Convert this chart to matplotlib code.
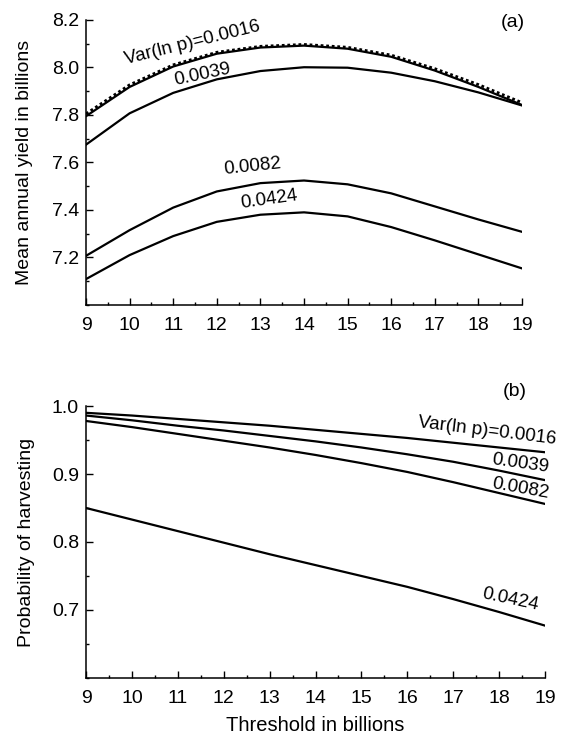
import matplotlib.pyplot as plt
from matplotlib.ticker import MultipleLocator

plt.rcParams["font.family"] = ["Liberation Sans", "DejaVu Sans"]

# threshold (billions)
threshold = [9, 10, 11, 12, 13, 14, 15, 16, 17, 18, 19]

# (a) mean annual yield, billions
yield_dotted = [7.805, 7.927, 8.011, 8.064, 8.089, 8.097, 8.085, 8.052, 7.995, 7.928, 7.852]
yield_0016 = [7.795, 7.918, 8.004, 8.058, 8.084, 8.092, 8.079, 8.045, 7.987, 7.918, 7.842]
yield_0039 = [7.675, 7.807, 7.893, 7.950, 7.985, 8.001, 7.999, 7.978, 7.942, 7.895, 7.840]
yield_0082 = [7.207, 7.315, 7.410, 7.478, 7.513, 7.524, 7.508, 7.470, 7.415, 7.360, 7.308]
yield_0424 = [7.109, 7.210, 7.290, 7.350, 7.380, 7.390, 7.373, 7.328, 7.272, 7.213, 7.154]

# (b) probability of harvesting
prob_0016 = [0.990, 0.986, 0.981, 0.976, 0.971, 0.965, 0.959, 0.953, 0.946, 0.939, 0.932]
prob_0039 = [0.986, 0.979, 0.971, 0.964, 0.956, 0.948, 0.939, 0.929, 0.918, 0.905, 0.891]
prob_0082 = [0.978, 0.969, 0.959, 0.949, 0.939, 0.928, 0.916, 0.903, 0.888, 0.872, 0.856]
prob_0424 = [0.850, 0.833, 0.816, 0.799, 0.782, 0.766, 0.750, 0.734, 0.716, 0.697, 0.677]


def style_axes(ax):
    for side in ["top", "right"]:
        ax.spines[side].set_visible(False)
    for side in ["left", "bottom"]:
        ax.spines[side].set_linewidth(1.1)
    ax.tick_params(which="both", direction="in", width=1.0, labelsize=14)
    ax.tick_params(which="major", length=5)
    ax.tick_params(which="minor", length=2.5)
    ax.tick_params(axis="x", pad=9)
    ax.tick_params(axis="y", pad=5)
    ax.xaxis.set_major_locator(MultipleLocator(1))
    ax.xaxis.set_minor_locator(MultipleLocator(0.5))


fig = plt.figure(figsize=(5.67, 7.37), dpi=100)
ax1 = fig.add_axes([0.1517, 0.5862, 0.9206 - 0.1517, 0.9729 - 0.5862])
ax2 = fig.add_axes([0.1517, 0.0801, 0.9612 - 0.1517, 0.4491 - 0.0801])

lw = 1.6
fs = 13.5

# panel (a)
ax1.plot(threshold, yield_0016, color="black", lw=lw)
ax1.plot(threshold, yield_dotted, color="black", lw=2.0, ls=(0, (1, 1)))
ax1.plot(threshold, yield_0039, color="black", lw=lw)
ax1.plot(threshold, yield_0082, color="black", lw=lw)
ax1.plot(threshold, yield_0424, color="black", lw=lw)
ax1.set_xlim(9, 19)
ax1.set_ylim(7.0, 8.2)
style_axes(ax1)
ax1.set_yticks([7.2, 7.4, 7.6, 7.8, 8.0, 8.2])
ax1.yaxis.set_minor_locator(MultipleLocator(0.1))
ax1.set_ylabel("Mean annual yield in billions", fontsize=14)
ax1.yaxis.set_label_coords(-0.121, 0.5)

ax1.text(11.45, 8.103, "Var(ln p)=0.0016", fontsize=fs, rotation=14, ha="center", va="center")
ax1.text(11.68, 7.972, "0.0039", fontsize=fs, rotation=12, ha="center", va="center")
ax1.text(12.81, 7.581, "0.0082", fontsize=fs, rotation=6, ha="center", va="center")
ax1.text(13.2, 7.446, "0.0424", fontsize=fs, rotation=8, ha="center", va="center")
ax1.text(18.79, 8.19, "(a)", fontsize=14, ha="center", va="center")

# panel (b)
ax2.plot(threshold, prob_0016, color="black", lw=lw)
ax2.plot(threshold, prob_0039, color="black", lw=lw)
ax2.plot(threshold, prob_0082, color="black", lw=lw)
ax2.plot(threshold, prob_0424, color="black", lw=lw)
ax2.set_xlim(9, 19)
ax2.set_ylim(0.6, 1.0)
style_axes(ax2)
ax2.set_yticks([0.7, 0.8, 0.9, 1.0])
ax2.yaxis.set_minor_locator(MultipleLocator(0.05))
ax2.set_ylabel("Probability of harvesting", fontsize=14)
ax2.yaxis.set_label_coords(-0.112, 0.5)
ax2.set_xlabel("Threshold in billions", fontsize=14.5)
ax2.xaxis.set_label_coords(0.5, -0.14)

ax2.text(17.74, 0.963, "Var(ln p)=0.0016", fontsize=fs, rotation=-7, ha="center", va="center", clip_on=False)
ax2.text(18.46, 0.915, "0.0039", fontsize=fs, rotation=-8, ha="center", va="center", clip_on=False)
ax2.text(18.46, 0.878, "0.0082", fontsize=fs, rotation=-10, ha="center", va="center", clip_on=False)
ax2.text(18.24, 0.715, "0.0424", fontsize=fs, rotation=-12, ha="center", va="center", clip_on=False)
ax2.text(18.35, 1.021, "(b)", fontsize=14, ha="center", va="center", clip_on=False)

fig.savefig("out.png", dpi=100)
plt.close(fig)
